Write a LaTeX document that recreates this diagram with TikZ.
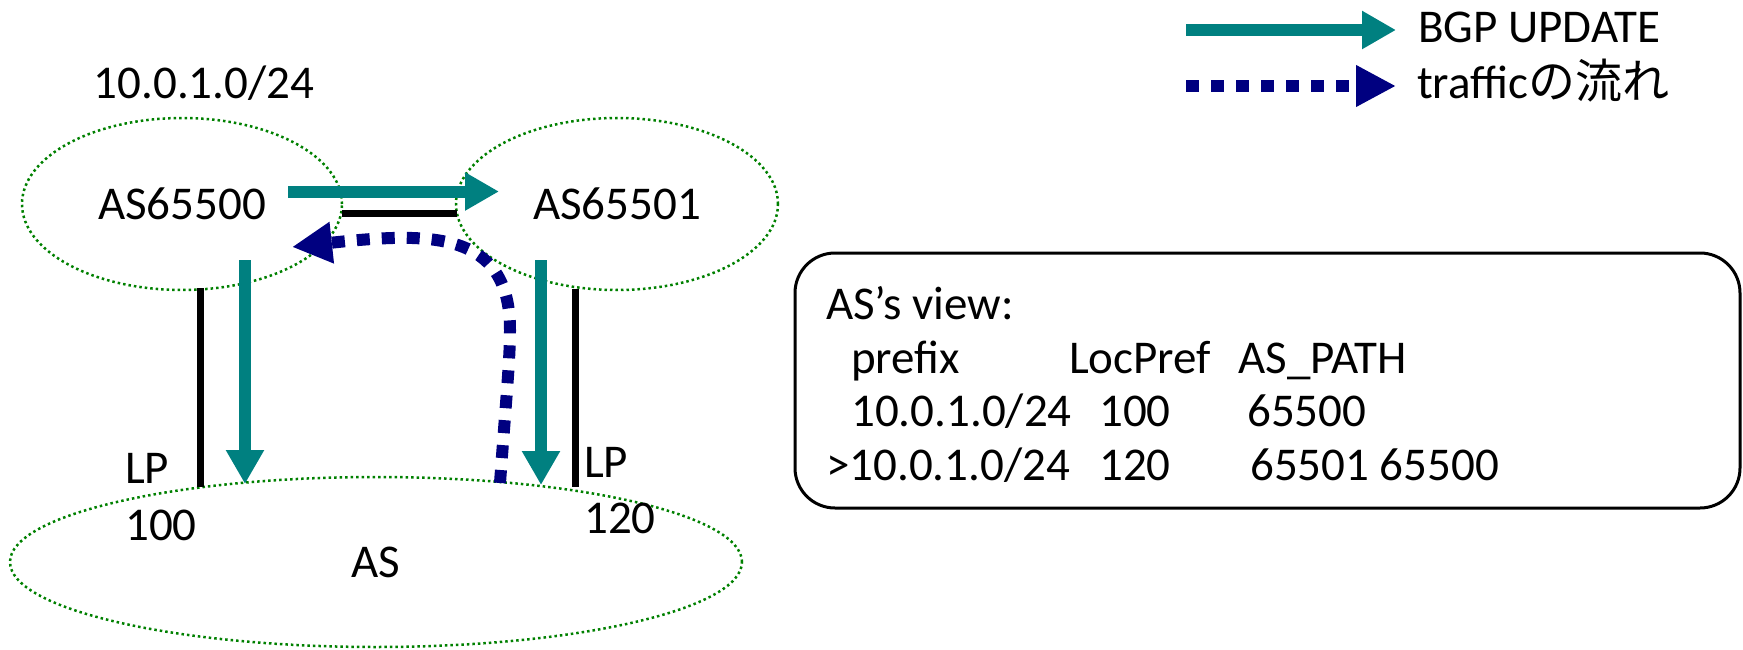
\documentclass[tikz,border=0pt]{standalone}
\usepackage{fontspec}
\setmainfont{Carlito}
\newfontfamily\cjkfont{Noto Sans CJK JP}
\usetikzlibrary{arrows.meta,shapes.geometric}
\definecolor{bgpteal}{RGB}{0,128,128}
\definecolor{trnavy}{RGB}{0,0,128}
\definecolor{asgreen}{RGB}{0,128,0}
\begin{document}
\begin{tikzpicture}[x=1pt,y=-1pt,
  txt/.style={font=\fontsize{47}{56}\selectfont, inner sep=0pt},
  asell/.style={ellipse, draw=asgreen, line width=2.5pt, dash pattern=on 2.5pt off 3pt,
    inner sep=0pt, font=\fontsize{47}{56}\selectfont},
  upd/.style={draw=bgpteal, line width=12pt, -{Triangle[length=34pt,width=36pt]}},
  trf/.style={draw=trnavy, line width=12pt, dash pattern=on 13pt off 12pt,
    -{Triangle[length=40pt,width=39pt]}},
  link/.style={draw=black, line width=7pt},
  viewbox/.style={draw=black, line width=3pt, rounded corners=40pt, inner sep=0pt}]
\useasboundingbox (0,0) rectangle (1743,650);
% legend
\coordinate (lu1) at (1186,30);
\coordinate (lu2) at (1396,30);
\draw[upd] (lu1) -- (lu2);
\node[txt, anchor=base west] (lgu) at (1418,43) {BGP UPDATE};
\coordinate (lt1) at (1186,86);
\coordinate (lt2) at (1396,86);
\draw[trf] (lt1) -- (lt2);
\node[txt, anchor=base west] (lgt) at (1417,99) {traffic{\cjkfont の流れ}};
% prefix label
\node[txt, anchor=base] (pfx) at (204,99) {10.0.1.0/24};
% ASes
\node[asell, minimum width=320pt, minimum height=172pt] (as1) at (182,204) {AS65500};
\node[asell, minimum width=322pt, minimum height=172pt] (as2) at (617,204) {AS65501};
\node[asell, minimum width=732pt, minimum height=170pt] (as0) at (376,562) {AS};
% links
\coordinate (h1) at (342,213);
\coordinate (h2) at (457,213);
\draw[link] (h1) -- (h2);
\coordinate (v1a) at (200,288);
\coordinate (v1b) at (200,487);
\draw[link] (v1a) -- (v1b);
\coordinate (v2a) at (575,289);
\coordinate (v2b) at (575,487);
\draw[link] (v2a) -- (v2b);
% updates
\coordinate (u1a) at (288,191.5);
\coordinate (u1b) at (499,191.5);
\draw[upd] (u1a) -- (u1b);
\coordinate (u2a) at (245,260);
\coordinate (u2b) at (245,484);
\draw[upd] (u2a) -- (u2b);
\coordinate (u3a) at (541,260);
\coordinate (u3b) at (541,485);
\draw[upd] (u3a) -- (u3b);
% traffic
\coordinate (t0) at (500,483);
\coordinate (tm) at (510,330);
\coordinate (t1) at (292,247);
\draw[trf] (t0) .. controls (506,400) and (510,360) .. (tm)
  .. controls (510,230) and (430,232) .. (t1);
% LP labels
\node[txt, anchor=base west] (lp1) at (125,483) {LP};
\node[txt, anchor=base west] (lv1) at (125,540) {100};
\node[txt, anchor=base west] (lp2) at (584,477) {LP};
\node[txt, anchor=base west] (lv2) at (584,533) {120};
% view box
\node[viewbox, minimum width=945pt, minimum height=255pt] (view) at (1267.5,380.5) {};
\node[txt, anchor=base west] (r0) at (826,319) {AS’s view:};
\node[txt, anchor=base west] (r1a) at (851,373) {prefix};
\node[txt, anchor=base west] (r1b) at (1069,373) {LocPref};
\node[txt, anchor=base west] (r1c) at (1238,373) {AS\_PATH};
\node[txt, anchor=base west] (r2a) at (851,426) {10.0.1.0/24};
\node[txt, anchor=base west] (r2b) at (1099,426) {100};
\node[txt, anchor=base west] (r2c) at (1247,426) {65500};
\node[txt, anchor=base west] (r3a) at (826,480) {>10.0.1.0/24};
\node[txt, anchor=base west] (r3b) at (1099,480) {120};
\node[txt, anchor=base west] (r3c) at (1250,480) {65501 65500};
\end{tikzpicture}
\end{document}
